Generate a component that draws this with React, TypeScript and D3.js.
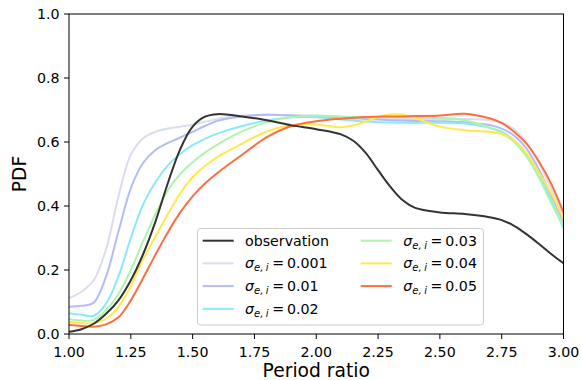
import React from 'react';
import * as d3 from 'd3';

const periodRatio = [1.0,1.05,1.1,1.15,1.2,1.25,1.3,1.35,1.4,1.45,1.5,1.55,1.6,1.7,1.8,1.9,2.0,2.1,2.15,2.2,2.25,2.3,2.35,2.4,2.5,2.6,2.7,2.75,2.8,2.85,2.9,2.95,3.0];

const observation = [0.007,0.015,0.032,0.063,0.105,0.168,0.25,0.352,0.472,0.578,0.648,0.679,0.687,0.68,0.668,0.652,0.64,0.624,0.604,0.566,0.512,0.46,0.418,0.394,0.38,0.375,0.365,0.356,0.338,0.312,0.282,0.25,0.221];
const sigma0001 = [0.112,0.132,0.168,0.265,0.43,0.56,0.612,0.632,0.642,0.648,0.654,0.663,0.672,0.683,0.685,0.684,0.682,0.678,0.676,0.675,0.674,0.673,0.672,0.672,0.672,0.672,0.668,0.66,0.64,0.6,0.535,0.455,0.37];
const sigma001 = [0.085,0.088,0.098,0.18,0.32,0.455,0.535,0.575,0.597,0.614,0.632,0.65,0.666,0.68,0.685,0.683,0.68,0.676,0.674,0.672,0.67,0.668,0.667,0.666,0.665,0.662,0.653,0.642,0.62,0.58,0.515,0.435,0.35];
const sigma002 = [0.065,0.06,0.057,0.095,0.18,0.3,0.405,0.475,0.527,0.563,0.59,0.61,0.626,0.65,0.667,0.677,0.677,0.67,0.667,0.664,0.662,0.661,0.66,0.66,0.66,0.658,0.645,0.632,0.605,0.56,0.5,0.42,0.33];
const sigma003 = [0.047,0.042,0.044,0.075,0.125,0.2,0.29,0.375,0.45,0.5,0.537,0.567,0.592,0.633,0.662,0.678,0.683,0.68,0.678,0.677,0.677,0.677,0.677,0.677,0.676,0.668,0.645,0.628,0.6,0.555,0.49,0.41,0.335];
const sigma004 = [0.038,0.034,0.034,0.048,0.085,0.15,0.235,0.305,0.375,0.44,0.49,0.525,0.553,0.595,0.633,0.652,0.655,0.646,0.652,0.664,0.678,0.686,0.685,0.675,0.648,0.637,0.632,0.625,0.605,0.565,0.505,0.44,0.36];
const sigma005 = [0.028,0.025,0.023,0.03,0.052,0.105,0.175,0.248,0.318,0.38,0.43,0.47,0.503,0.56,0.615,0.65,0.665,0.673,0.676,0.678,0.679,0.68,0.68,0.681,0.683,0.688,0.674,0.66,0.632,0.595,0.54,0.47,0.38];

const sigmaLabels = ['0.001', '0.01', '0.02', '0.03', '0.04', '0.05'];
const sigmaColors = ['#dcdcef', '#b3bcf7', '#8ae8fa', '#aef4ae', '#ffe94d', '#ff6e3f'];
const sigmaSeries = [sigma0001, sigma001, sigma002, sigma003, sigma004, sigma005];

const xTicks = [1.0, 1.25, 1.5, 1.75, 2.0, 2.25, 2.5, 2.75, 3.0];
const yTicks = [0, 0.2, 0.4, 0.6, 0.8, 1.0];

const W = 581, H = 380;
const L = 69, R = 563.5, T = 14, B = 334;
const FONT = 'DejaVu Sans, sans-serif';

export default function App() {
  const x = d3.scaleLinear().domain([1, 3]).range([L, R]);
  const y = d3.scaleLinear().domain([0, 1]).range([B, T]);
  const line = (vals: number[]) =>
    d3.line<number>().x((_, i) => x(periodRatio[i])).y(d => y(d)).curve(d3.curveCatmullRom.alpha(0.5))(vals) || '';

  const legendRowY = [240.7, 263.4, 286.1, 308.8];
  const legendItems: { label: string | null; color: string; col: number; row: number }[] = [
    { label: null, color: '#333333', col: 0, row: 0 },
    ...sigmaLabels.map((s, i) => ({ label: s, color: sigmaColors[i], col: i < 3 ? 0 : 1, row: i < 3 ? i + 1 : i - 3 })),
  ];
  const colHandle = [202.7, 360.7];
  const colText = [245, 403.3];

  return (
    <svg width={W} height={H} style={{ position: 'absolute', left: 0, top: 0, background: '#fff' }} fontFamily={FONT}>
      <rect x={0} y={0} width={W} height={H} fill="#fff" />
      <defs>
        <clipPath id="plotclip">
          <rect x={L} y={T} width={R - L} height={B - T} />
        </clipPath>
      </defs>
      <g clipPath="url(#plotclip)">
        {sigmaSeries.map((s, i) => (
          <path key={i} d={line(s)} fill="none" stroke={sigmaColors[i]} strokeWidth={2} />
        ))}
        <path d={line(observation)} fill="none" stroke="#333333" strokeWidth={2} />
      </g>
      <rect x={L} y={T} width={R - L} height={B - T} fill="none" stroke="#000" strokeWidth={1} />
      {xTicks.map(t => (
        <g key={t}>
          <line x1={x(t)} x2={x(t)} y1={B} y2={B + 5} stroke="#000" strokeWidth={1} />
          <text x={x(t)} y={356.5} textAnchor="middle" fontSize={14.2} fill="#000">{t.toFixed(2)}</text>
        </g>
      ))}
      {yTicks.map(t => (
        <g key={t}>
          <line x1={L - 5} x2={L} y1={y(t)} y2={y(t)} stroke="#000" strokeWidth={1} />
          <text x={59.5} y={y(t) + 5.1} textAnchor="end" fontSize={14.2} fill="#000">{t.toFixed(1)}</text>
        </g>
      ))}
      <text x={(L + R) / 2} y={376.5} textAnchor="middle" fontSize={18.7} fill="#000">Period ratio</text>
      <text transform={`translate(25.7,${(T + B) / 2}) rotate(-90)`} textAnchor="middle" fontSize={18.7} fill="#000">PDF</text>
      <rect x={197.5} y={228.5} width={286} height={96.5} rx={3} fill="#fff" fillOpacity={0.8} stroke="#cccccc" strokeWidth={1} />
      {legendItems.map((it, i) => {
        const yy = legendRowY[it.row];
        return (
          <g key={i}>
            <line x1={colHandle[it.col]} x2={colHandle[it.col] + 31} y1={yy} y2={yy} stroke={it.color} strokeWidth={2} />
            {it.label === null ? (
              <text x={colText[it.col]} y={yy + 5} fontSize={14.2} fill="#000">observation</text>
            ) : (
              <text x={colText[it.col]} y={yy + 5} fontSize={14.2} fill="#000">
                <tspan fontStyle="italic">σ</tspan>
                <tspan fontStyle="italic" fontSize={10} dy={3}>e,</tspan>
                <tspan fontStyle="italic" fontSize={10} dx={2.5}>i</tspan>
                <tspan dy={-3} dx={3.5}>=</tspan>
                <tspan dx={3}>{it.label}</tspan>
              </text>
            )}
          </g>
        );
      })}
    </svg>
  );
}
